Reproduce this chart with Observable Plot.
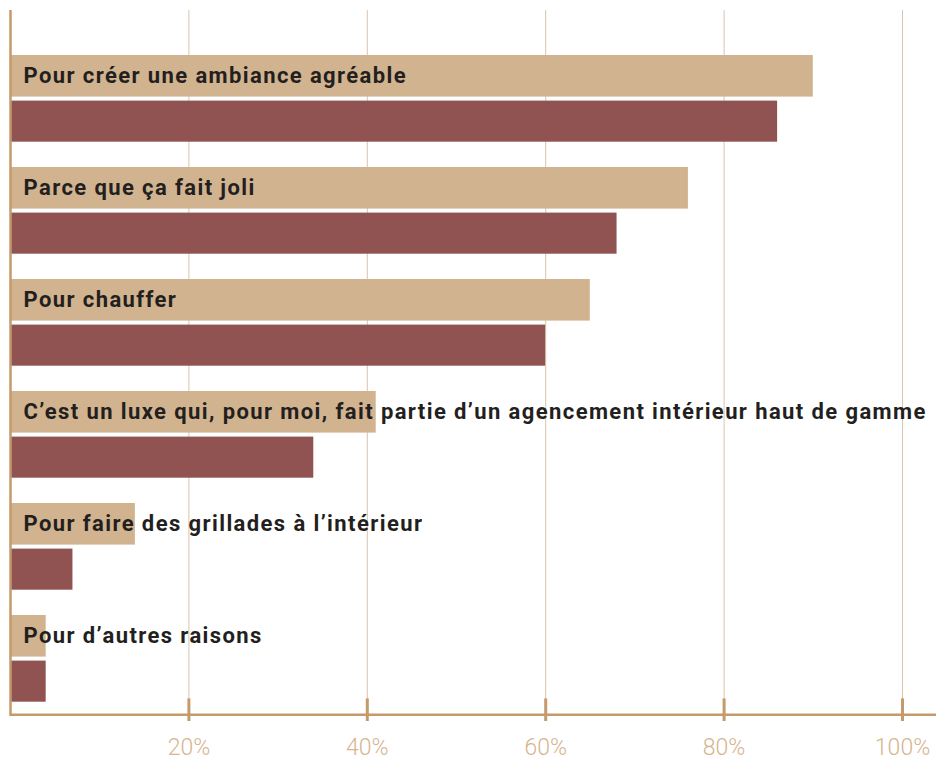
<!DOCTYPE html>
<html>
<head>
<meta charset="utf-8">
<script src="https://cdn.jsdelivr.net/npm/d3@7"></script>
<script src="https://cdn.jsdelivr.net/npm/@observablehq/plot@0.6"></script>
<style>
  html, body { margin: 0; padding: 0; background: #fff; }
  #chart svg { display: block; }
  .cat-labels text { letter-spacing: 1.4px; }
</style>
</head>
<body>
<div id="chart"></div>
<script>
const categories = [
  "Pour créer une ambiance agréable",
  "Parce que ça fait joli",
  "Pour chauffer",
  "C’est un luxe qui, pour moi, fait partie d’un agencement intérieur haut de gamme",
  "Pour faire des grillades à l’intérieur",
  "Pour d’autres raisons"
];
const seriesA = [90, 76, 65, 41, 14, 4];   // tan bars
const seriesB = [86, 68, 60, 34, 7, 4];    // maroon bars
const tickValues = [20, 40, 60, 80, 100];

const keyA = c => c + "|A";
const keyB = c => c + "|B";
const yDomain = categories.flatMap(c => [keyA(c), keyB(c)]);
const rowsA = categories.map((c, i) => ({cat: c, key: keyA(c), value: seriesA[i]}));
const rowsB = categories.map((c, i) => ({cat: c, key: keyB(c), value: seriesB[i]}));
const lastKey = yDomain[yDomain.length - 1];

const TAN = "#d2b38f", MAROON = "#915352", AXIS = "#c49a6a", GRID = "#dcc4a8", TXT = "#231f20";

const chart = Plot.plot({
  width: 936,
  height: 760,
  marginLeft: 10,
  marginRight: 34,
  marginTop: 10,
  marginBottom: 44,
  style: {background: "#fff", fontFamily: "Roboto, sans-serif"},
  x: {domain: [0, 100], axis: null, label: null},
  y: {domain: yDomain, range: [39, 716], padding: 0, axis: null, label: null},
  marks: [
    Plot.ruleX(tickValues, {stroke: GRID, strokeWidth: 1}),
    Plot.barX(rowsA, {x: "value", y: "key", fill: TAN, insetTop: 13, insetBottom: 1.4}),
    Plot.barX(rowsB, {x: "value", y: "key", fill: MAROON, insetTop: 2.6, insetBottom: 12.3}),
    Plot.ruleX([0], {stroke: AXIS, strokeWidth: 2.5}),
    Plot.ruleY([lastKey], {x1: 0, x2: 104, dy: 28.2, stroke: AXIS, strokeWidth: 2.5}),
    Plot.tickX(tickValues, {x: d => d, y: () => lastKey, insetTop: 40.4, insetBottom: -7, stroke: AXIS, strokeWidth: 3}),
    Plot.axisX({ticks: tickValues, tickSize: 0, tickPadding: 22, label: null, tickFormat: d => d + "%", fontSize: 23, fill: "#d6b58f", fontWeight: 300, anchor: "bottom"}),
    Plot.text(rowsA, {x: 0, y: "key", text: "cat", dx: 13, dy: 5, textAnchor: "start", fill: TXT, fontSize: 22, fontWeight: 700, className: "cat-labels"})
  ]
});
document.getElementById("chart").append(chart);
</script>
</body>
</html>
